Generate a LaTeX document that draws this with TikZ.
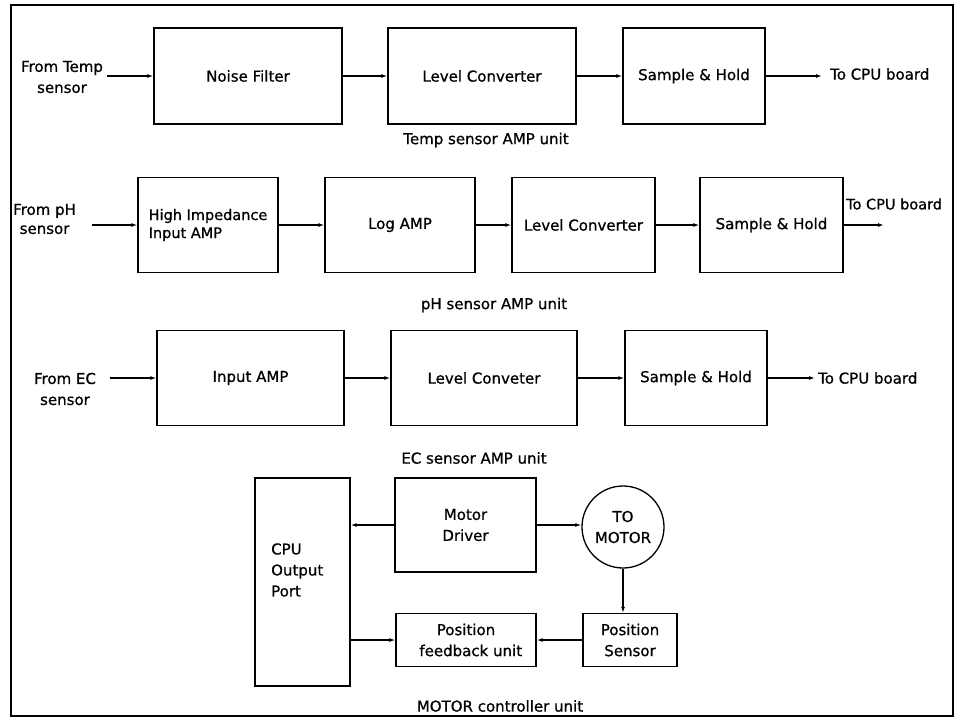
\documentclass[tikz,border=0pt]{standalone}
\usepackage{fontspec}
\setmainfont{DejaVu Sans}[FakeBold=0.8]
\usetikzlibrary{arrows.meta}
\tikzset{
  x=1pt, y=-1pt,
  txt/.style={font=\fontsize{15}{21}\selectfont, inner sep=0pt, align=center},
  blk/.style={draw, line width=1.3pt, inner sep=0pt, align=center, font=\fontsize{15}{21}\selectfont},
  arr/.style={line width=1.3pt, -{Latex[length=6pt,width=4pt]}},
  frame/.style={line width=1.1pt}
}
\begin{document}
\begin{tikzpicture}
\useasboundingbox (0,0) rectangle (956,718);
\draw[frame] (11,5) rectangle (953,716);

% Row 1: Temp sensor
\node[blk, minimum width=188pt, minimum height=96pt] (nf) at (248,76) {Noise Filter};
\node[blk, minimum width=188pt, minimum height=96pt] (lc1) at (482,76) {Level Converter};
\node[blk, minimum width=142pt, minimum height=96pt] (sh1) at (694,76) {Sample \& Hold};
\node[txt] (ft) at (62,77) {From Temp\\sensor};
\node[txt, anchor=west] (tc1) at (830,74) {To CPU board};
\coordinate (ft0) at (107,76);
\coordinate (tc1a) at (822,76);
\node[txt] (l1) at (486,140) {Temp sensor AMP unit};
\draw[arr] (ft0) -- (ft0 -| nf.west);
\draw[arr] (nf.east) -- (lc1.west);
\draw[arr] (lc1.east) -- (sh1.west);
\draw[arr] (sh1.east) -- (tc1a);

% Row 2: pH sensor
\node[blk, minimum width=140pt, minimum height=95pt, align=left, font=\fontsize{14.5}{18}\selectfont] (hi) at (208,225) {High Impedance\\Input AMP};
\node[blk, minimum width=150pt, minimum height=95pt] (lg) at (400,225) {Log AMP};
\node[blk, minimum width=143pt, minimum height=95pt] (lc2) at (583.5,225) {Level Converter};
\node[blk, minimum width=143pt, minimum height=95pt] (sh2) at (771.5,225) {Sample \& Hold};
\node[txt, anchor=west, font=\fontsize{15}{19}\selectfont] (fp) at (13,219) {From pH\\sensor};
\node[txt, anchor=west, font=\fontsize{14.5}{20}\selectfont] (tc2) at (846,204) {To CPU board};
\coordinate (fp0) at (92,225);
\coordinate (tc2a) at (884,225);
\node[txt] (l2) at (494,305) {pH sensor AMP unit};
\draw[arr] (fp0) -- (fp0 -| hi.west);
\draw[arr] (hi.east) -- (lg.west);
\draw[arr] (lg.east) -- (lc2.west);
\draw[arr] (lc2.east) -- (sh2.west);
\draw[arr] (sh2.east) -- (tc2a);

% Row 3: EC sensor
\node[blk, minimum width=187pt, minimum height=95pt] (ia) at (250.5,378) {Input AMP};
\node[blk, minimum width=186pt, minimum height=95pt] (lc3) at (484,378) {Level Conveter};
\node[blk, minimum width=142pt, minimum height=95pt] (sh3) at (696,378) {Sample \& Hold};
\node[txt] (fe) at (65,389) {From EC\\sensor};
\node[txt, anchor=west] (tc3) at (818,378) {To CPU board};
\coordinate (fe0) at (110,378);
\coordinate (tc3a) at (815,378);
\node[txt] (l3) at (474,458) {EC sensor AMP unit};
\draw[arr] (fe0) -- (fe0 -| ia.west);
\draw[arr] (ia.east) -- (lc3.west);
\draw[arr] (lc3.east) -- (sh3.west);
\draw[arr] (sh3.east) -- (tc3a);

% Row 4: Motor controller
\node[blk, minimum width=95pt, minimum height=208pt] (cpu) at (302.5,582) {};
\node[txt, anchor=west, align=left] (cput) at (271,570) {CPU\\Output\\Port};
\node[blk, minimum width=141pt, minimum height=94pt] (md) at (465.5,525) {Motor\\Driver};
\node[blk, circle, minimum size=82pt] (mot) at (623,527) {TO\\MOTOR};
\node[blk, minimum width=94pt, minimum height=53pt] (ps) at (630,640) {Position\\Sensor};
\node[blk, minimum width=140pt, minimum height=53pt] (pf) at (466,640) {Position\\\ \ feedback unit};
\node[txt] (l4) at (500,706) {MOTOR controller unit};
\draw[arr] (md.west) -- (md.west -| cpu.east);
\draw[arr] (md.east) -- (md.east -| mot.west);
\draw[arr] (mot.south) -- (mot.south |- ps.north);
\draw[arr] (ps.west) -- (pf.east);
\draw[arr] (pf.west -| cpu.east) -- (pf.west);
\end{tikzpicture}
\end{document}
